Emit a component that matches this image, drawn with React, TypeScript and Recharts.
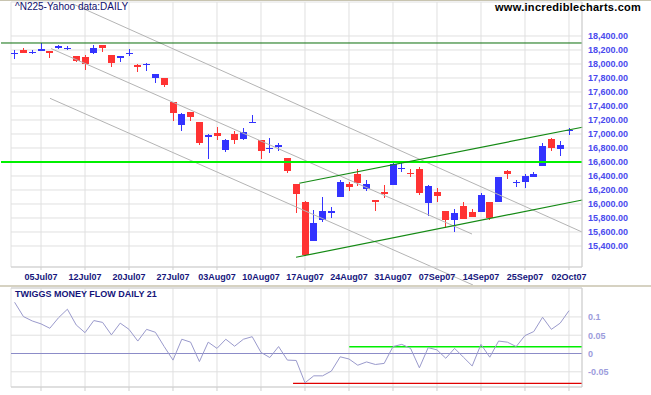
import React from 'react';
import { ComposedChart, Bar, Line, XAxis, YAxis, CartesianGrid, ReferenceLine } from 'recharts';

const dates = [
  '02Jul07','03Jul07','04Jul07','05Jul07','06Jul07','09Jul07','10Jul07','11Jul07','12Jul07','13Jul07',
  '17Jul07','18Jul07','19Jul07','20Jul07','23Jul07','24Jul07','25Jul07','26Jul07','27Jul07','30Jul07','31Jul07',
  '01Aug07','02Aug07','03Aug07','06Aug07','07Aug07','08Aug07','09Aug07','10Aug07','13Aug07','14Aug07',
  '15Aug07','16Aug07','17Aug07','20Aug07','21Aug07','22Aug07','23Aug07','24Aug07','27Aug07','28Aug07',
  '29Aug07','30Aug07','31Aug07',
  '03Sep07','04Sep07','05Sep07','06Sep07','07Sep07','10Sep07','11Sep07','12Sep07','13Sep07','14Sep07',
  '18Sep07','19Sep07','20Sep07','21Sep07','25Sep07','26Sep07','27Sep07','28Sep07',
  '01Oct07','02Oct07',
];

const opens = [
  18145,18200,18170,18190,18190,18233,18228,18114,18104,18162,
  18271,18129,18090,18148,17986,17990,17804,17796,17461,17133,17314,
  17171,16961,17019,16771,17004,16929,17167,16914,16786,16819,
  16653,16286,16029,15476,15771,15867,16096,16281,16429,16214,
  16057,16171,16271,
  16505,16447,16500,16010,16167,15900,15771,15971,15881,15890,
  16024,16033,16471,16305,16319,16390,16548,16924,
  16781,17050,
];
const highs = [
  18200,18224,18200,18296,18190,18271,18257,18114,18129,18271,
  18271,18129,18119,18210,18000,18019,17857,17796,17461,17300,17319,
  17176,17000,17096,16929,17047,17090,17271,16914,16939,16867,
  16653,16286,16047,15910,16104,15957,16343,16319,16500,16343,
  16057,16271,16590,
  16581,16500,16529,16271,16224,15900,15929,16024,15924,16152,
  16024,16390,16486,16343,16429,16452,16867,16947,
  16904,17090,
];
const lows = [
  18071,18150,18147,18190,18096,18219,18204,18033,17914,18143,
  18176,17961,18033,18104,17890,17904,17733,17667,17190,17047,17190,
  16843,16643,16914,16750,16861,16914,17153,16643,16724,16747,
  16439,15867,15260,15476,15748,15796,16096,16190,16262,16186,
  15904,16090,16271,
  16447,16390,16133,15833,16024,15653,15604,15781,15804,15876,
  15771,16033,16352,16247,16233,16381,16548,16757,
  16690,16996,
];
const closes = [
  18153,18153,18176,18214,18153,18261,18233,18047,17996,18224,
  18224,18019,18119,18153,17961,17996,17857,17700,17295,17281,17247,
  16876,16986,16976,16914,16914,17029,17176,16761,16796,16843,
  16476,16143,15271,15733,15896,15904,16319,16247,16305,16286,
  16024,16147,16571,
  16514,16424,16162,16257,16119,15771,15867,15781,15819,16129,
  15796,16381,16424,16314,16400,16429,16829,16796,
  16843,17057,
];

const tmf = [
  0.140,0.101,0.089,0.081,0.069,0.098,0.121,0.078,0.057,0.090,
  0.085,0.051,0.083,0.066,0.034,0.066,0.058,0.019,-0.018,0.039,0.031,
  -0.022,0.031,0.014,0.039,0.020,0.039,0.046,0.003,-0.011,0.019,
  -0.018,-0.019,-0.080,-0.061,-0.061,-0.048,-0.009,-0.015,-0.032,-0.023,
  -0.030,-0.027,0.019,
  0.025,0.014,-0.039,0.016,0.010,-0.013,0.014,-0.010,-0.034,0.025,
  -0.010,0.034,0.031,0.019,0.049,0.060,0.099,0.066,
  0.083,0.117,
];

const xTickIdx = [3, 8, 13, 18, 23, 28, 33, 38, 43, 48, 53, 58, 63];
const priceTicks = [15400, 15600, 15800, 16000, 16200, 16400, 16600, 16800, 17000, 17200, 17400, 17600, 17800, 18000, 18200, 18400];
const tmfTicks = [-0.05, 0, 0.05, 0.1];

const xDomain = [-0.41, 64.48];
const priceDomain = [15100, 18885.7];
const tmfDomain = [-0.0915, 0.179];

// horizontal support / resistance levels
const resistanceLevel = 18300;
const supportLevel = 16600;
const levelStartIdx = -1.545;

// gray trend channel: [[x1, y1], [x2, y2]]
const grayLines = [
  [[6.64, 18857], [64.48, 15600]],
  [[4.14, 18221], [51.98, 15571]],
  [[4.02, 17510], [52.09, 14843]],
];
// green rising channel
const greenLines = [
  [[32.35, 16296], [64.51, 17096]],
  [[31.98, 15239], [64.51, 16057]],
];

const tmfGreenLevel = 0.0186;
const tmfGreenStart = 38.03;
const tmfRedLevel = -0.0814;
const tmfRedStart = 31.64;

const priceData = dates.map((d, i) => ({ i, o: opens[i], hi: highs[i], lo: lows[i], c: closes[i] }));
const tmfData = tmf.map((v, i) => ({ i, v }));

const FONT = '"Liberation Sans", Arial, sans-serif';
const GRID = '#e0e0e0';
const BORDER = '#cfcfcf';

const Candle = (props: any) => {
  const { x, y, width, height, payload } = props;
  if (x == null || y == null || !payload) return null;
  const top = Math.min(y, y + height);
  const h = Math.abs(height);
  const { o, c, hi, lo } = payload;
  const pix = (v: number) => top + ((hi - v) / (hi - lo)) * h;
  const cx = Math.round(x + width / 2 - 0.5);
  const up = c >= o;
  const color = up ? '#3333ff' : '#ff3333';
  const bTop = Math.round(pix(Math.max(o, c)));
  const bBot = Math.round(pix(Math.min(o, c)));
  const bh = Math.max(1, bBot - bTop);
  return (
    <g shapeRendering="crispEdges">
      <rect x={cx} y={Math.round(top)} width={1} height={Math.max(1, Math.round(h))} fill={color} />
      <rect x={cx - 3} y={bTop} width={7} height={bh} fill={color} />
    </g>
  );
};

const XTick = (props: any) => {
  const { x, y, payload } = props;
  return (
    <text x={x} y={y + 10} textAnchor="middle" fontSize={9} fontWeight="bold" fill="#16167c" fontFamily={FONT}>
      {dates[payload.value]}
    </text>
  );
};

const fmtPrice = (v: number) =>
  v.toLocaleString('en-US', { minimumFractionDigits: 2, maximumFractionDigits: 2 });

const PriceTick = (props: any) => {
  const { x, y, payload } = props;
  return (
    <text x={x} y={y + 3.3} textAnchor="start" fontSize={9} fontWeight="bold" fill="#4a4aee" fontFamily={FONT}>
      {fmtPrice(payload.value)}
    </text>
  );
};

const TmfTick = (props: any) => {
  const { x, y, payload } = props;
  return (
    <text x={x} y={y + 3.3} textAnchor="start" fontSize={9} fontWeight="bold" fill="#9c9cdc" fontFamily={FONT}>
      {String(payload.value)}
    </text>
  );
};

const EmptyTick = () => <g />;

export default function App() {
  return (
    <div style={{ position: 'absolute', left: 0, top: 0, width: 651, height: 395, background: '#ffffff', overflow: 'hidden' }}>
      <div style={{ position: 'absolute', left: 0, top: 0 }}>
        <ComposedChart width={651} height={287} data={priceData} margin={{ top: 2, right: 0, bottom: 0, left: 11 }}>
          <CartesianGrid stroke={GRID} yAxisId="p" />
          <XAxis
            dataKey="i"
            type="number"
            domain={xDomain}
            allowDataOverflow
            ticks={xTickIdx}
            interval={0}
            height={20}
            tickSize={3}
            tickMargin={0}
            tickLine={{ stroke: BORDER }}
            axisLine={{ stroke: BORDER }}
            tick={<XTick />}
          />
          <YAxis
            yAxisId="p"
            orientation="right"
            type="number"
            domain={priceDomain}
            allowDataOverflow
            ticks={priceTicks}
            interval={0}
            width={69}
            tickSize={0}
            tickMargin={6}
            tickLine={false}
            axisLine={{ stroke: BORDER }}
            tick={<PriceTick />}
          />
          <YAxis
            yAxisId="l"
            orientation="left"
            type="number"
            domain={priceDomain}
            allowDataOverflow
            width={0}
            tick={false}
            tickLine={false}
            axisLine={{ stroke: BORDER }}
          />
          {grayLines.map((s, k) => (
            <ReferenceLine
              key={'g' + k}
              yAxisId="p"
              ifOverflow="visible"
              segment={[{ x: s[0][0], y: s[0][1] }, { x: s[1][0], y: s[1][1] }]}
              stroke="#b4b4b4"
              strokeWidth={1}
            />
          ))}
          <ReferenceLine
            yAxisId="p"
            ifOverflow="visible"
            segment={[{ x: levelStartIdx, y: resistanceLevel }, { x: xDomain[1], y: resistanceLevel }]}
            stroke="#0a6e0a"
            strokeWidth={1}
          />
          <ReferenceLine
            yAxisId="p"
            ifOverflow="visible"
            segment={[{ x: levelStartIdx, y: supportLevel }, { x: xDomain[1], y: supportLevel }]}
            stroke="#00f000"
            strokeWidth={1.8}
          />
          {greenLines.map((s, k) => (
            <ReferenceLine
              key={'gr' + k}
              yAxisId="p"
              ifOverflow="visible"
              segment={[{ x: s[0][0], y: s[0][1] }, { x: s[1][0], y: s[1][1] }]}
              stroke="#148a14"
              strokeWidth={1.2}
            />
          ))}
          <Bar
            yAxisId="p"
            dataKey={(d: any) => [d.lo, d.hi]}
            barSize={7}
            shape={<Candle />}
            isAnimationActive={false}
          />
        </ComposedChart>
      </div>

      <div style={{ position: 'absolute', left: 0, top: 285, width: 651, height: 2, background: '#d6d2c2' }} />
      <div style={{ position: 'absolute', left: 0, top: 0, width: 651, height: 1, background: '#c8c4b0' }} />

      <div style={{ position: 'absolute', left: 0, top: 287 }}>
        <ComposedChart width={651} height={108} data={tmfData} margin={{ top: 1, right: 0, bottom: 0, left: 11 }}>
          <CartesianGrid stroke={GRID} yAxisId="t" />
          <XAxis
            dataKey="i"
            type="number"
            domain={xDomain}
            allowDataOverflow
            ticks={xTickIdx}
            interval={0}
            height={8}
            tickSize={4}
            tickLine={{ stroke: BORDER }}
            axisLine={{ stroke: BORDER }}
            tick={<EmptyTick />}
          />
          <YAxis
            yAxisId="t"
            orientation="right"
            type="number"
            domain={tmfDomain}
            allowDataOverflow
            ticks={tmfTicks}
            interval={0}
            width={69}
            tickSize={0}
            tickMargin={6}
            tickLine={false}
            axisLine={{ stroke: BORDER }}
            tick={<TmfTick />}
          />
          <YAxis
            yAxisId="tl"
            orientation="left"
            type="number"
            domain={tmfDomain}
            allowDataOverflow
            width={0}
            tick={false}
            tickLine={false}
            axisLine={{ stroke: BORDER }}
          />
          <ReferenceLine yAxisId="t" y={tmfDomain[1]} ifOverflow="visible" stroke={BORDER} />
          <ReferenceLine yAxisId="t" y={0} ifOverflow="visible" stroke="#8c8cc8" strokeWidth={1} />
          <ReferenceLine
            yAxisId="t"
            ifOverflow="visible"
            segment={[{ x: tmfGreenStart, y: tmfGreenLevel }, { x: xDomain[1], y: tmfGreenLevel }]}
            stroke="#00ee00"
            strokeWidth={1.5}
          />
          <ReferenceLine
            yAxisId="t"
            ifOverflow="visible"
            segment={[{ x: tmfRedStart, y: tmfRedLevel }, { x: xDomain[1], y: tmfRedLevel }]}
            stroke="#e00000"
            strokeWidth={1.2}
          />
          <Line
            yAxisId="t"
            dataKey="v"
            type="linear"
            stroke="#9a9acc"
            strokeWidth={1}
            dot={false}
            isAnimationActive={false}
          />
        </ComposedChart>
      </div>

      <svg width={651} height={395} style={{ position: 'absolute', left: 0, top: 0, pointerEvents: 'none' }}>
        <text x={15} y={10} fontSize={10} fill="#10106e" fontFamily={FONT}>^N225-Yahoo data:DAILY</text>
        <text x={495} y={11} fontSize={11} fontWeight="bold" letterSpacing={0.3} fill="#000000" fontFamily={FONT}>
          www.incrediblecharts.com
        </text>
        <text x={15} y={297} fontSize={9} fontWeight="bold" fill="#14147a" fontFamily={FONT}>
          TWIGGS MONEY FLOW DAILY 21
        </text>
      </svg>
    </div>
  );
}
